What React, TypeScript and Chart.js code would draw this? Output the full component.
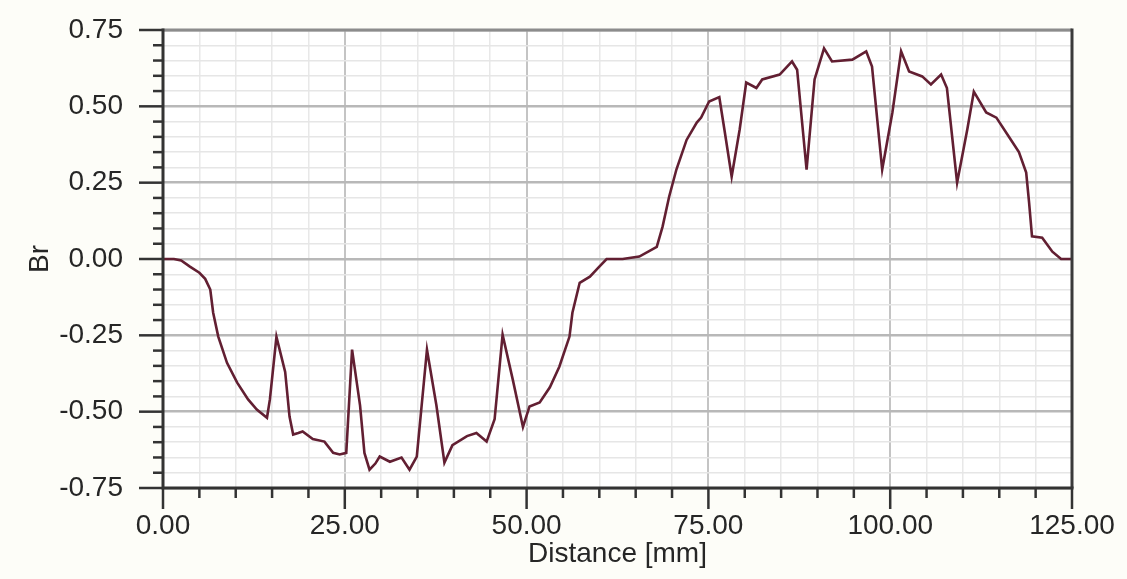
import React, { useEffect, useRef } from "react";
import { Chart, registerables } from "chart.js";

Chart.register(...registerables);

// Radial field profile along the measuring path
const distance = [
  0, 1.5, 2.5, 3.7, 5.0, 5.8, 6.5, 6.9, 7.6, 8.8, 10.2, 11.7, 12.9, 14.3, 14.7,
  15.6, 16.8, 17.4, 17.9, 18.6, 19.2, 20.6, 22.2, 23.4, 24.3, 25.2, 26.0, 27.1,
  27.7, 28.4, 29.2, 29.8, 31.2, 32.8, 33.9, 34.9, 36.3, 37.6, 38.7, 39.8, 41.8,
  43.1, 44.5, 45.6, 46.7, 48.1, 49.5, 50.4, 51.8, 53.2, 54.5, 55.9, 56.3, 57.3,
  58.7, 60.0, 61.0, 63.2, 65.5, 67.9, 68.7, 69.6, 70.6, 72.0, 73.4, 74.0, 75.1,
  76.5, 77.2, 78.2, 79.3, 80.2, 81.6, 82.4, 84.8, 86.5, 87.2, 88.5, 89.6, 90.9,
  92.0, 94.8, 96.7, 97.5, 98.9, 100.3, 101.5, 102.6, 104.4, 105.6, 107.0, 107.8,
  109.2, 110.6, 111.5, 113.2, 114.6, 116.3, 117.7, 118.7, 119.1, 119.5, 120.9,
  122.3, 123.5, 125.0,
];

const br = [
  0.0, 0.0, -0.005, -0.025, -0.045, -0.065, -0.1, -0.176, -0.254, -0.34, -0.405,
  -0.46, -0.493, -0.52, -0.46, -0.255, -0.37, -0.516, -0.575, -0.57, -0.565,
  -0.59, -0.598, -0.635, -0.64, -0.635, -0.297, -0.48, -0.635, -0.69, -0.67,
  -0.647, -0.664, -0.65, -0.69, -0.647, -0.297, -0.48, -0.667, -0.61, -0.58,
  -0.57, -0.598, -0.525, -0.248, -0.395, -0.55, -0.483, -0.47, -0.42, -0.353,
  -0.254, -0.176, -0.078, -0.058, -0.025, 0.0, 0.0, 0.008, 0.04, 0.106, 0.204,
  0.293, 0.39, 0.447, 0.463, 0.516, 0.53, 0.424, 0.27, 0.424, 0.578, 0.56,
  0.588, 0.604, 0.647, 0.62, 0.293, 0.588, 0.69, 0.647, 0.653, 0.68, 0.63,
  0.293, 0.48, 0.68, 0.614, 0.598, 0.572, 0.604, 0.56, 0.25, 0.424, 0.548,
  0.48, 0.463, 0.401, 0.35, 0.283, 0.185, 0.074, 0.07, 0.024, 0.0, 0.0,
];

// Axis settings
const xRange = [0, 125];
const xMinorStep = 5;
const xMajorStep = 25;
const yRange = [-0.75, 0.75];
const yMinorStep = 0.05;
const yMajorStep = 0.25;
const xTitle = "Distance [mm]";
const yTitle = "Br";

const FONT = '"Liberation Sans", Arial, sans-serif';
const TEXT = "#262626";

const isMajor = (v: number, step: number) =>
  Math.abs(v / step - Math.round(v / step)) < 1e-6;

// Drop the automatic label-overflow padding so the layout padding alone sets the plot box
const noOverflow = (s: any) => {
  s.paddingTop = 0;
  s.paddingBottom = 0;
  s.paddingLeft = 0;
  s.paddingRight = 0;
};

const framePlugin = {
  id: "frame",
  beforeDraw(chart: any) {
    const { ctx, chartArea: a, width, height } = chart;
    ctx.save();
    ctx.fillStyle = "#fdfdf8";
    ctx.fillRect(0, 0, width, height);
    ctx.fillStyle = "#ffffff";
    ctx.fillRect(a.left, a.top, a.right - a.left, a.bottom - a.top);
    ctx.restore();
  },
  afterDraw(chart: any) {
    const { ctx, chartArea: a, scales } = chart;
    ctx.save();
    ctx.lineCap = "butt";
    // frame
    ctx.lineWidth = 3;
    ctx.strokeStyle = "#8c8c8c";
    ctx.beginPath();
    ctx.moveTo(a.left, a.top);
    ctx.lineTo(a.right, a.top);
    ctx.stroke();
    ctx.strokeStyle = "#3a3a3a";
    ctx.beginPath();
    ctx.moveTo(a.right, a.top - 1.5);
    ctx.lineTo(a.right, a.bottom);
    ctx.stroke();
    ctx.strokeStyle = "#333333";
    ctx.beginPath();
    ctx.moveTo(a.left, a.top - 1.5);
    ctx.lineTo(a.left, a.bottom);
    ctx.lineTo(a.right + 1.5, a.bottom);
    ctx.stroke();
    // tick marks
    ctx.lineWidth = 2.5;
    ctx.strokeStyle = "#333333";
    const xs = scales.x;
    xs.ticks.forEach((t: any) => {
      const px = xs.getPixelForValue(t.value);
      const len = isMajor(t.value, xMajorStep) ? 21 : 10;
      ctx.beginPath();
      ctx.moveTo(px, a.bottom);
      ctx.lineTo(px, a.bottom + len);
      ctx.stroke();
    });
    const ys = scales.y;
    ys.ticks.forEach((t: any) => {
      const py = ys.getPixelForValue(t.value);
      const len = isMajor(t.value, yMajorStep) ? 24 : 10;
      ctx.beginPath();
      ctx.moveTo(a.left, py);
      ctx.lineTo(a.left - len, py);
      ctx.stroke();
    });
    ctx.restore();
  },
};

export default function App() {
  const ref = useRef<HTMLCanvasElement | null>(null);

  useEffect(() => {
    document.body.style.margin = "0";
    const canvas = ref.current;
    if (!canvas) return;
    const points = distance.map((d, i) => ({ x: d, y: br[i] }));
    const chart = new Chart(canvas, {
      type: "line",
      data: {
        datasets: [
          {
            data: points,
            borderColor: "#621f32",
            borderWidth: 2.6,
            pointRadius: 0,
            tension: 0,
            fill: false,
          },
        ],
      },
      options: {
        responsive: false,
        animation: false,
        layout: { padding: { left: 0, right: 55, top: 30, bottom: 0 } },
        plugins: {
          legend: { display: false },
          tooltip: { enabled: false },
        },
        scales: {
          x: {
            type: "linear",
            min: xRange[0],
            max: xRange[1],
            afterFit: (s: any) => {
              s.height = 91;
              noOverflow(s);
            },
            ticks: {
              stepSize: xMinorStep,
              autoSkip: false,
              maxRotation: 0,
              padding: 21,
              color: TEXT,
              font: { family: FONT, size: 28 },
              callback: (v: any) =>
                isMajor(Number(v), xMajorStep) ? Number(v).toFixed(2) : "",
            },
            grid: {
              drawTicks: false,
              color: (c: any) =>
                isMajor(c.tick.value, xMajorStep) ? "#c4c4c4" : "#e8e8e8",
              lineWidth: (c: any) => (isMajor(c.tick.value, xMajorStep) ? 2 : 1.5),
            },
            border: { display: false },
            title: {
              display: true,
              text: xTitle,
              color: TEXT,
              font: { family: FONT, size: 28 },
              padding: { top: 0, bottom: 8 },
            },
          },
          y: {
            type: "linear",
            min: yRange[0],
            max: yRange[1],
            afterFit: (s: any) => {
              s.width = 163;
              noOverflow(s);
            },
            ticks: {
              stepSize: yMinorStep,
              autoSkip: false,
              padding: 40,
              color: TEXT,
              font: { family: FONT, size: 28 },
              callback: (v: any) =>
                isMajor(Number(v), yMajorStep) ? Number(v).toFixed(2) : "",
            },
            grid: {
              drawTicks: false,
              color: (c: any) =>
                isMajor(c.tick.value, yMajorStep) ? "#b8b8b8" : "#e6e6e6",
              lineWidth: (c: any) => (isMajor(c.tick.value, yMajorStep) ? 2.5 : 1.5),
            },
            border: { display: false },
            title: {
              display: true,
              text: yTitle,
              color: TEXT,
              font: { family: FONT, size: 28 },
              padding: { top: 23, bottom: 0 },
            },
          },
        },
      },
      plugins: [framePlugin],
    });
    return () => chart.destroy();
  }, []);

  return (
    <div style={{ width: 1127, height: 579 }}>
      <canvas ref={ref} width={1127} height={579} />
    </div>
  );
}
